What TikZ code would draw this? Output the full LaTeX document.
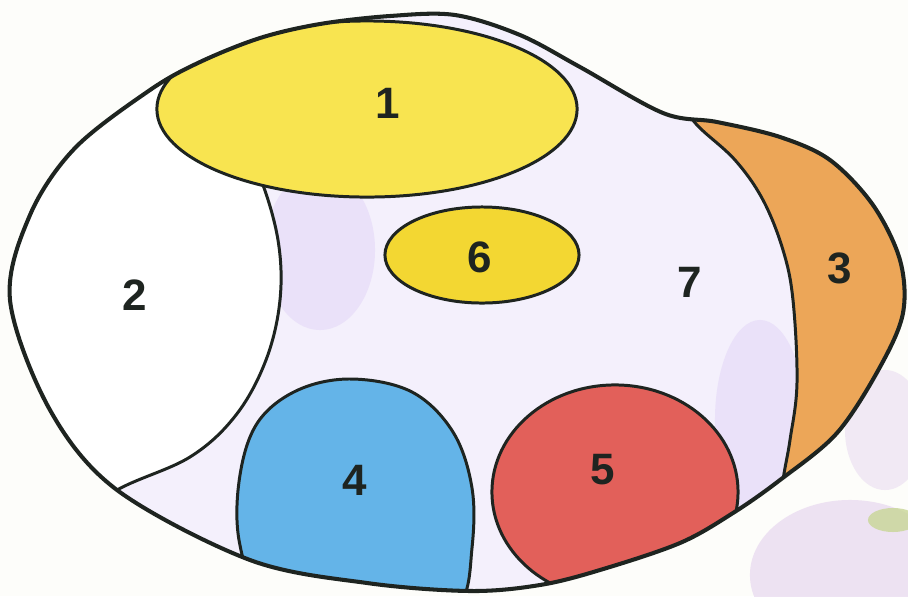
\documentclass[tikz,border=0pt]{standalone}
\usepackage{fontspec}
\setmainfont{Liberation Sans}
\definecolor{inkc}{RGB}{30,36,32}
\definecolor{bgc}{RGB}{253,253,250}
\definecolor{lavc}{RGB}{244,240,252}
\definecolor{lavd}{RGB}{228,216,247}
\definecolor{yelc}{RGB}{248,228,80}
\definecolor{yeld}{RGB}{243,215,50}
\definecolor{bluc}{RGB}{100,180,232}
\definecolor{redc}{RGB}{226,96,90}
\definecolor{orac}{RGB}{236,166,88}
\definecolor{flowc}{RGB}{234,220,240}
\definecolor{leafc}{RGB}{200,214,150}
\tikzset{
  region/.style={draw=inkc, line width=0.85pt},
  outerline/.style={draw=inkc, line width=1.15pt},
  lbl/.style={font=\fontsize{12.5}{14}\selectfont\bfseries, text=inkc, inner sep=0pt}
}
\begin{document}
\begin{tikzpicture}[x=0.01cm,y=-0.01cm]
\useasboundingbox (0,0) rectangle (908,596);
\fill[bgc] (0,0) rectangle (908,596);
% blurred flower in background
\fill[flowc, opacity=0.8] (850,575) ellipse [x radius=1.0cm, y radius=0.75cm];
\fill[flowc, opacity=0.6] (885,430) ellipse [x radius=0.4cm, y radius=0.6cm];
\fill[leafc, opacity=0.8] (893,520) ellipse [x radius=0.25cm, y radius=0.12cm];
% egg interior (region 7)
\fill[lavc] plot[smooth cycle, tension=0.55] coordinates {(10,300) (30,215) (75,148) (150,90) (200,62) (260,38) (320,24) (390,16) (455,15) (520,35) (580,67) (663,113) (717,122) (780,137) (830,160) (873,205) (900,260) (903,313) (880,367) (837,433) (780,480) (733,513) (680,543) (600,570) (540,585) (470,591) (367,583) (250,560) (117,490) (50,410)};
\begin{scope}
\clip plot[smooth cycle, tension=0.55] coordinates {(10,300) (30,215) (75,148) (150,90) (200,62) (260,38) (320,24) (390,16) (455,15) (520,35) (580,67) (663,113) (717,122) (780,137) (830,160) (873,205) (900,260) (903,313) (880,367) (837,433) (780,480) (733,513) (680,543) (600,570) (540,585) (470,591) (367,583) (250,560) (117,490) (50,410)};
% lavender tints in region 7
\fill[lavd, opacity=0.6] (320,250) ellipse [x radius=0.55cm, y radius=0.8cm];
\fill[lavd, opacity=0.6] (760,420) ellipse [x radius=0.45cm, y radius=1.0cm];
% region 2
\fill[white] plot[smooth, tension=0.6] coordinates {(235,130) (260,177) (278,240) (280,300) (266,360) (236,415) (190,457) (117,490) (60,530)} -- (0,596) -- (0,0) -- (235,0) -- cycle;
\draw[region] plot[smooth, tension=0.6] coordinates {(235,130) (260,177) (278,240) (280,300) (266,360) (236,415) (190,457) (117,490) (60,530)};
% region 3
\fill[orac] (690,0) -- plot[smooth, tension=0.6] coordinates {(680,100) (697,125) (735,160) (763,200) (783,250) (793,300) (797,383) (790,440) (783,480) (775,540)} -- (908,596) -- (908,0) -- cycle;
\draw[region] plot[smooth, tension=0.6] coordinates {(680,100) (697,125) (735,160) (763,200) (783,250) (793,300) (797,383) (790,440) (783,480) (775,540)};
% region 4 and 5
\filldraw[region, fill=bluc] plot[smooth cycle, tension=0.6] coordinates {(352,379) (412,392) (453,432) (472,488) (472,548) (460,605) (410,645) (320,650) (262,600) (239,540) (240,475) (258,422) (298,390)};
\filldraw[region, fill=redc] (615,492) ellipse [x radius=1.23cm, y radius=1.07cm];
% region 1
\filldraw[region, fill=yelc] (367,109) ellipse [x radius=2.1cm, y radius=0.88cm];
\end{scope}
% region 6
\filldraw[region, fill=yeld] (482,255) ellipse [x radius=0.97cm, y radius=0.48cm];
% egg outline
\draw[outerline] plot[smooth cycle, tension=0.55] coordinates {(10,300) (30,215) (75,148) (150,90) (200,62) (260,38) (320,24) (390,16) (455,15) (520,35) (580,67) (663,113) (717,122) (780,137) (830,160) (873,205) (900,260) (903,313) (880,367) (837,433) (780,480) (733,513) (680,543) (600,570) (540,585) (470,591) (367,583) (250,560) (117,490) (50,410)};
% labels
\node[lbl] (l1) at (388,103) {1};
\node[lbl] (l2) at (135,295) {2};
\node[lbl] (l3) at (840,268) {3};
\node[lbl] (l4) at (355,480) {4};
\node[lbl] (l5) at (603,470) {5};
\node[lbl] (l6) at (480,257) {6};
\node[lbl] (l7) at (690,282) {7};
\end{tikzpicture}
\end{document}
